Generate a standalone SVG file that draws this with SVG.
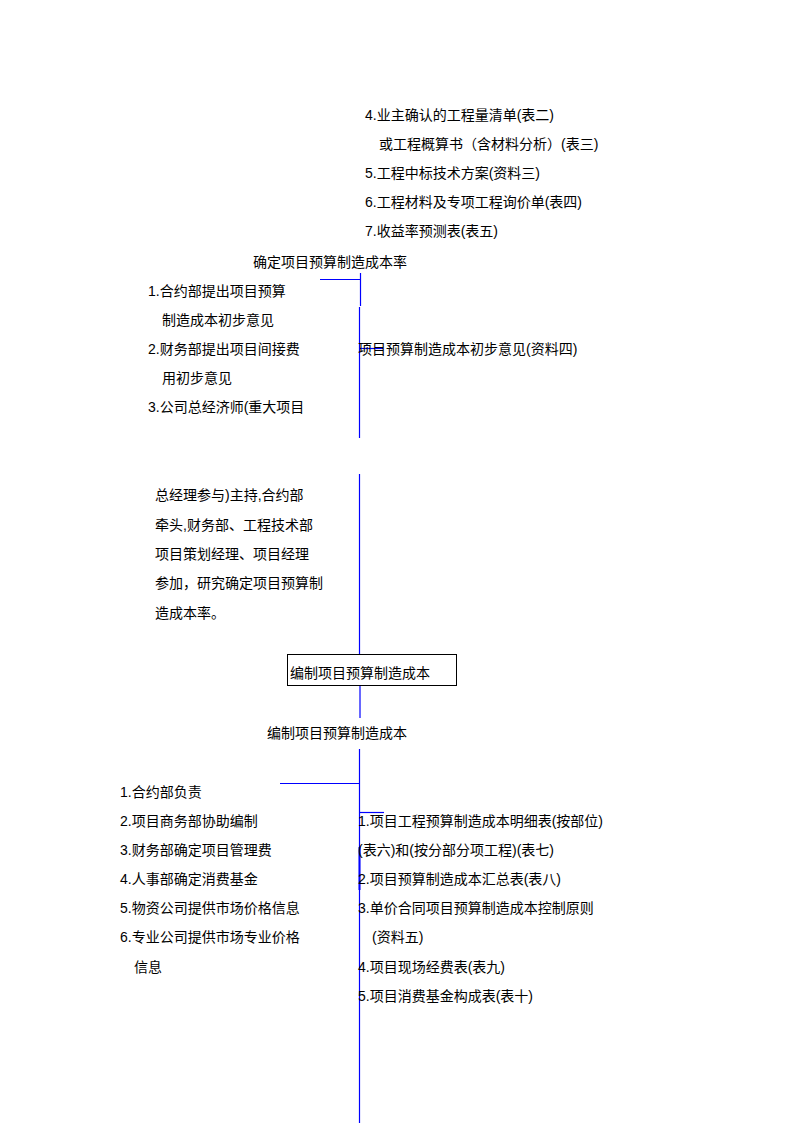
<svg xmlns="http://www.w3.org/2000/svg" width="794" height="1123" viewBox="0 0 794 1123">
<style>
text{font-family:"Liberation Sans","Noto Sans CJK SC",sans-serif;font-size:14px;fill:#000}
.c{stroke:#0000ff;stroke-width:1.2;fill:none}
.box{fill:#fff;stroke:#000;stroke-width:1}
</style>
<rect width="794" height="1123" fill="#fff"/>
<g id="connectors">
<path class="c" d="M320,279.5 H360.5 M360.5,273 V306"/>
<path class="c" d="M359.5,307 V438"/>
<path class="c" d="M360,348.5 H383"/>
<path class="c" d="M359.5,474 V654"/>
<path class="c" d="M360,685 V718"/>
<path class="c" d="M359.5,749 V1123"/>
<path class="c" d="M280,783.5 H360"/>
<path class="c" d="M360,812.5 H384"/>
<path class="c" d="M359.5,847 V890" style="stroke-width:2"/>
</g>
<g id="materials-top">
<text x="365" y="120">4.业主确认的工程量清单(表二)</text>
<text x="379" y="149">或工程概算书（含材料分析）(表三)</text>
<text x="365" y="178">5.工程中标技术方案(资料三)</text>
<text x="365" y="207">6.工程材料及专项工程询价单(表四)</text>
<text x="365" y="236">7.收益率预测表(表五)</text>
</g>
<g id="step1-title">
<text x="253" y="267">确定项目预算制造成本率</text>
</g>
<g id="step1-left">
<text x="148" y="296">1.合约部提出项目预算</text>
<text x="162" y="325">制造成本初步意见</text>
<text x="148" y="354">2.财务部提出项目间接费</text>
<text x="162" y="383">用初步意见</text>
<text x="148" y="412">3.公司总经济师(重大项目</text>
<text x="155" y="500">总经理参与)主持,合约部</text>
<text x="155" y="530">牵头,财务部、工程技术部</text>
<text x="155" y="559">项目策划经理、项目经理</text>
<text x="155" y="588">参加，研究确定项目预算制</text>
<text x="155" y="618">造成本率。</text>
</g>
<g id="step1-right">
<text x="358" y="354">项目预算制造成本初步意见(资料四)</text>
</g>
<g id="box-node">
<rect class="box" x="287.5" y="654.5" width="169" height="31"/>
<text x="290" y="678">编制项目预算制造成本</text>
</g>
<g id="step2-title">
<text x="267" y="738">编制项目预算制造成本</text>
</g>
<g id="step2-left">
<text x="120" y="797">1.合约部负责</text>
<text x="120" y="826">2.项目商务部协助编制</text>
<text x="120" y="855">3.财务部确定项目管理费</text>
<text x="120" y="884">4.人事部确定消费基金</text>
<text x="120" y="913">5.物资公司提供市场价格信息</text>
<text x="120" y="942">6.专业公司提供市场专业价格</text>
<text x="134" y="972">信息</text>
</g>
<g id="step2-right">
<text x="358" y="826">1.项目工程预算制造成本明细表(按部位)</text>
<text x="358" y="855">(表六)和(按分部分项工程)(表七)</text>
<text x="358" y="884">2.项目预算制造成本汇总表(表八)</text>
<text x="358" y="913">3.单价合同项目预算制造成本控制原则</text>
<text x="372" y="942">(资料五)</text>
<text x="358" y="972">4.项目现场经费表(表九)</text>
<text x="358" y="1001">5.项目消费基金构成表(表十)</text>
</g>
</svg>
